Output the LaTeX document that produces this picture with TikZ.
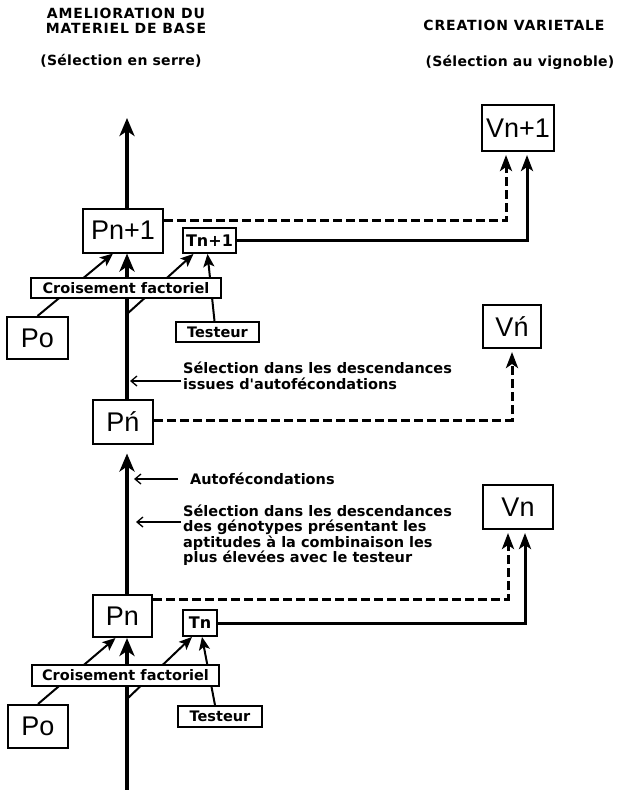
\documentclass[tikz,border=0pt]{standalone}
\usepackage{fontspec}
\setmainfont{DejaVu Sans}
\newfontfamily\boxfont{Liberation Sans}
\newfontfamily\labfont{DejaVu Sans}
\newfontfamily\headfont[LetterSpace=6]{DejaVu Sans}
\newfontfamily\parfont[LetterSpace=2]{DejaVu Sans}
\usetikzlibrary{arrows.meta}
\tikzstyle{headsty}=[font=\headfont\bfseries\fontsize{14}{15}\selectfont, inner sep=0pt]
\tikzstyle{parsty}=[font=\parfont\bfseries\fontsize{14}{15}\selectfont, inner sep=0pt]
\tikzstyle{labelsty}=[font=\labfont\bfseries\fontsize{14.5}{15.5}\selectfont, inner sep=0pt, align=left]
\tikzstyle{pbox}=[draw, line width=2pt, fill=white, font=\boxfont\fontsize{27}{27}\selectfont, inner sep=0pt, minimum height=44pt]
\tikzstyle{tbox}=[draw, line width=1.8pt, fill=white, font=\labfont\bfseries\fontsize{16}{16}\selectfont, inner sep=0pt, minimum height=25pt]
\tikzstyle{cbox}=[draw, line width=1.8pt, fill=white, font=\labfont\bfseries\fontsize{14.5}{15}\selectfont, inner sep=0pt, minimum height=20pt]
\tikzstyle{mainarrow}=[line width=3.8pt, -{Stealth[length=18pt,width=15pt,inset=5pt]}]
\tikzstyle{linkarrow}=[line width=2pt, -{Stealth[length=13pt,width=11pt,inset=3pt]}]
\tikzstyle{sline}=[line width=3pt, -{Stealth[length=16pt,width=12pt,inset=4pt]}]
\tikzstyle{dline}=[sline, dash pattern=on 9pt off 4pt]
\tikzstyle{notearrow}=[line width=1.3pt, -{Straight Barb[length=6pt,width=10pt]}]

\begin{document}
\begin{tikzpicture}[x=1pt,y=-1pt]
\useasboundingbox (0,0) rectangle (619,790);

% headings
\node[headsty] (hA) at (126,13) {AMELIORATION DU};
\node[headsty] (hB) at (126,28) {MATERIEL DE BASE};
\node[parsty] (hC) at (121,61) {(Sélection en serre)};
\node[headsty] (hD) at (514,25) {CREATION VARIETALE};
\node[parsty] (hE) at (520,62) {(Sélection au vignoble)};

% greenhouse side
\node[pbox, minimum width=80pt] (pnp1) at (123,230.5) {Pn+1};
\node[tbox, minimum width=53pt] (tnp1) at (209.5,240.5) {Tn+1};
\node[pbox, minimum width=61pt, minimum height=42pt] (p0A) at (37.5,338) {Po};
\node[cbox, minimum width=83pt] (tsA) at (217.5,332) {Testeur};
\node[pbox, minimum width=60pt] (pnpr) at (123,421.5) {Pń};
\node[pbox, minimum width=59pt, minimum height=42pt] (pn) at (122.5,616) {Pn};
\node[tbox, minimum width=34pt, minimum height=26pt] (tn) at (200,623) {Tn};
\node[pbox, minimum width=60pt, minimum height=43pt] (p0B) at (38,726.5) {Po};
\node[cbox, minimum width=84pt, minimum height=21pt] (tsB) at (220,716.5) {Testeur};

% vineyard side
\node[pbox, minimum width=72pt, minimum height=46pt] (vnp1) at (518,128) {Vn+1};
\node[pbox, minimum width=58pt, minimum height=43pt] (vnpr) at (512,326.5) {Vń};
\node[pbox, minimum width=70pt] (vn) at (518,507) {Vn};

% notes
\node[labelsty, anchor=west] (selA) at (183,376) {Sélection dans les descendances\\issues d'autofécondations};
\node[labelsty, anchor=west] (auto) at (190,479) {Autofécondations};
\node[labelsty, anchor=west] (selB) at (183,535) {Sélection dans les descendances\\des génotypes présentant les\\aptitudes à la combinaison les\\plus élevées avec le testeur};

\coordinate (bot) at (127,790);
\coordinate (top) at (127,118);
\coordinate (brA) at (127,314);
\coordinate (brB) at (127,699);

% main stem
\draw[mainarrow] (bot) -- (bot |- pn.south);
\draw[mainarrow] (bot |- pn.north) -- ([yshift=-9pt]bot |- pnpr.south);
\draw[mainarrow] (bot |- pnpr.north) -- (bot |- pnp1.south);
\draw[mainarrow] (bot |- pnp1.north) -- (top);

% crosses
\draw[linkarrow] (p0A.north) -- ([xshift=-10pt]pnp1.south);
\draw[linkarrow] (brA) -- ([xshift=-16pt]tnp1.south);
\draw[linkarrow] ([xshift=-3pt]tsA.north) -- ([xshift=-2pt]tnp1.south);
\draw[linkarrow] (p0B.north) -- ([xshift=-7pt]pn.south);
\draw[linkarrow] (brB) -- ([xshift=-8pt]tn.south);
\draw[linkarrow] ([xshift=-5pt]tsB.north) -- ([xshift=2pt]tn.south);

\node[cbox, minimum width=190pt] (crA) at (126,288) {Croisement factoriel};
\node[cbox, minimum width=187pt, minimum height=21pt] (crB) at (125.5,675.5) {Croisement factoriel};

% towards the vineyard
\draw[dline, shorten >=3pt] ([yshift=10pt]pnp1.east) -| ([xshift=-12pt]vnp1.south);
\draw[sline, shorten >=3pt] (tnp1.east) -| ([xshift=9pt]vnp1.south);
\draw[dline, shorten >=3pt] ([yshift=1.5pt]pnpr.east) -| (vnpr.south);
\draw[dline, shorten >=3pt] ([yshift=17pt]pn.east) -| ([xshift=-10pt]vn.south);
\draw[sline, shorten >=3pt] (tn.east) -| ([xshift=7pt]vn.south);

% note arrows
\draw[notearrow, shorten >=3pt] ([xshift=-2pt,yshift=-5pt]selA.west) coordinate (sa) -- (sa -| bot);
\draw[notearrow, shorten >=7pt] ([xshift=-12pt]auto.west) coordinate (au) -- (au -| bot);
\draw[notearrow, shorten >=9pt] ([xshift=-2pt,yshift=13pt]selB.west) coordinate (sb) -- (sb -| bot);
\end{tikzpicture}
\end{document}
